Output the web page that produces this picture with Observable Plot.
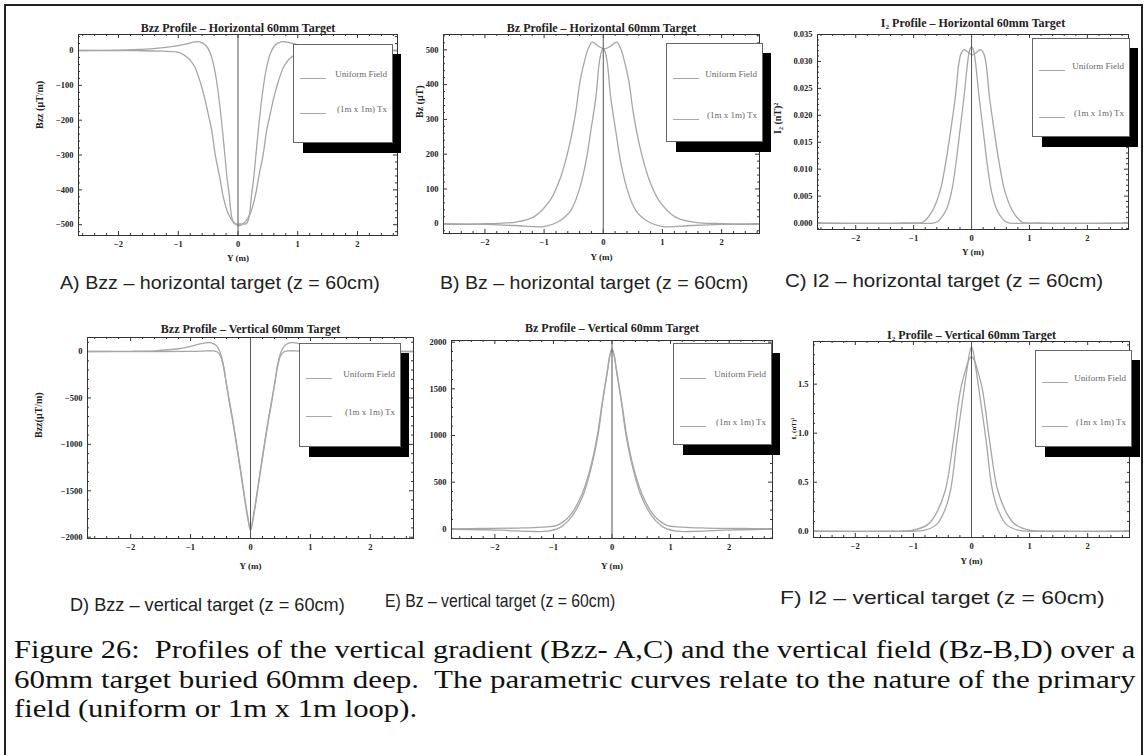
<!DOCTYPE html>
<html><head><meta charset="utf-8">
<script src="https://cdn.jsdelivr.net/npm/d3@7"></script>
<script src="https://cdn.jsdelivr.net/npm/@observablehq/plot@0.6"></script>
<style>
body{margin:0;background:#fff;width:1147px;height:755px;overflow:hidden;position:relative;font-family:"Liberation Serif",serif}
#border{position:absolute;left:4px;top:4px;width:1135px;height:800px;border:2px solid #222}
.pl{position:absolute}
.legend{position:absolute;background:#fff;border:1px solid #666;box-sizing:border-box}
.shadow{position:absolute;background:#000}
.lg-line{position:absolute;height:0;border-top:1px solid #a8a8a8;width:26px}
.lg-text{position:absolute;font:9px "Liberation Serif",serif;color:#666;white-space:nowrap;line-height:1}
.cap{position:absolute;font-family:"Liberation Sans",Arial,sans-serif;font-size:19px;color:#222;white-space:pre;transform-origin:0 50%;line-height:1}
.fig{position:absolute;font-family:"Liberation Serif","Times New Roman",serif;font-size:26px;color:#111;white-space:pre;transform-origin:0 50%;line-height:1}
</style></head><body>
<div id="border"></div>
<script>
// ---------- data ----------
const seriesNames = ["Uniform Field", "(1m x 1m) Tx"];
const xMajor = [-2, -1, 0, 1, 2];
const xMinor = [-2.6,-2.4,-2.2,-1.8,-1.6,-1.4,-1.2,-0.8,-0.6,-0.4,-0.2,0.2,0.4,0.6,0.8,1.2,1.4,1.6,1.8,2.2,2.4,2.6];

// A) Bzz horizontal
const aLoopX = [-2.67,-1.86,-1.46,-1.21,-1.01,-0.86,-0.74,-0.64,-0.54,-0.47,-0.41,-0.36,-0.31,-0.26,-0.22,-0.18,-0.15,-0.10,-0.06,0.04,0.14,0.18,0.23,0.26,0.30,0.34,0.39,0.44,0.49,0.55,0.62,0.72,0.82,0.94,1.09,1.29,1.54,1.94,2.67];
const aLoopY = [0,2,5,9,14,19,24,25,15,-5,-40,-86,-150,-229,-300,-371,-410,-482,-497,-498,-497,-482,-410,-371,-300,-229,-150,-86,-40,-5,15,25,24,19,14,9,5,2,0];
const aUniX = [-2.67,-1.68,-1.28,-0.98,-0.83,-0.73,-0.64,-0.56,-0.50,-0.44,-0.38,-0.31,-0.24,-0.16,-0.08,-0.02,0.02,0.06,0.12,0.20,0.28,0.35,0.42,0.48,0.54,0.60,0.68,0.77,0.87,1.02,1.32,1.72,2.67];
const aUniY = [0,-0.5,-2,-6,-22,-45,-86,-135,-181,-229,-300,-360,-425,-470,-492,-500,-503,-500,-492,-470,-425,-360,-300,-229,-181,-135,-86,-45,-22,-6,-2,-0.5,0];

// B) Bz horizontal
const bLoopX = [-2.68,-1.98,-1.48,-1.18,-0.90,-0.72,-0.58,-0.47,-0.39,-0.30,-0.25,-0.19,-0.13,-0.08,0.02,0.12,0.17,0.23,0.29,0.34,0.43,0.51,0.62,0.76,0.94,1.22,1.52,2.02,2.62];
const bLoopY = [-2,0,5,19,67,134,220,316,412,479,505,522,517,510,503,510,517,522,505,479,412,316,220,134,67,19,5,0,-2];
const bUniX = [-2.7,-2.0,-1.5,-1.0,-0.77,-0.55,-0.41,-0.30,-0.21,-0.125,-0.07,-0.03,0,0.03,0.07,0.125,0.21,0.30,0.41,0.55,0.77,1.0,1.5,2.0,2.63];
const bUniY = [0,-2,-5,-8,5,38,96,172,268,364,460,495,505,495,460,364,268,172,96,38,5,-8,-5,-2,0];

// C) I2 horizontal
const cLoopX = [-2.66,-1.2,-0.84,-0.67,-0.54,-0.45,-0.36,-0.28,-0.22,-0.18,-0.13,-0.08,0.015,0.11,0.16,0.21,0.25,0.31,0.39,0.48,0.57,0.70,0.87,1.2,2.7];
const cLoopY = [0,0,0.0002,0.0024,0.0061,0.0110,0.0172,0.0234,0.0296,0.0315,0.0322,0.0319,0.0312,0.0319,0.0322,0.0315,0.0296,0.0234,0.0172,0.0110,0.0061,0.0024,0.0002,0,0];
const cUniX = [-2.66,-1.0,-0.6,-0.44,-0.34,-0.27,-0.20,-0.13,-0.07,-0.035,0,0.035,0.07,0.13,0.20,0.27,0.34,0.44,0.6,1.0,2.7];
const cUniY = [0,0,0.0002,0.0024,0.0061,0.0110,0.0172,0.0234,0.0296,0.0320,0.0327,0.0320,0.0296,0.0234,0.0172,0.0110,0.0061,0.0024,0.0002,0,0];

// D) Bzz vertical
const dLoopX = [-2.72,-2.0,-1.6,-1.2,-1.0,-0.8,-0.69,-0.62,-0.56,-0.50,-0.45,-0.40,-0.35,-0.30,-0.25,-0.20,-0.15,-0.10,-0.05,0,0.05,0.10,0.15,0.20,0.25,0.30,0.35,0.40,0.45,0.50,0.56,0.62,0.69,0.8,1.0,1.2,1.6,2.0,2.72];
const dLoopY = [0,2,8,30,55,88,95,85,55,-20,-150,-360,-560,-740,-940,-1150,-1360,-1580,-1780,-1930,-1780,-1580,-1360,-1150,-940,-740,-560,-360,-150,-20,55,85,95,88,55,30,8,2,0];
const dUniX = [-2.72,-1.5,-1.0,-0.8,-0.65,-0.56,-0.50,-0.45,-0.40,-0.35,-0.30,-0.25,-0.20,-0.15,-0.10,-0.05,0,0.05,0.10,0.15,0.20,0.25,0.30,0.35,0.40,0.45,0.50,0.56,0.65,0.8,1.0,1.5,2.72];
const dUniY = [0,0,2,5,8,-2,-50,-170,-360,-540,-720,-920,-1130,-1340,-1560,-1760,-1915,-1760,-1560,-1340,-1130,-920,-720,-540,-360,-170,-50,-2,8,5,2,0,0];

// E) Bz vertical
const eLoopX = [-2.74,-2.2,-1.8,-1.4,-1.1,-0.9,-0.7,-0.5,-0.36,-0.24,-0.16,-0.07,-0.03,0,0.03,0.07,0.16,0.24,0.36,0.5,0.7,0.9,1.1,1.4,1.8,2.2,2.74];
const eLoopY = [-5,-10,-18,-28,-25,10,120,350,640,1000,1360,1720,1880,1930,1880,1720,1360,1000,640,350,120,10,-25,-28,-18,-10,-5];
const eUniX = [-2.74,-2.2,-1.6,-1.2,-0.93,-0.72,-0.52,-0.37,-0.25,-0.17,-0.08,-0.035,0,0.035,0.08,0.17,0.25,0.37,0.52,0.72,0.93,1.2,1.6,2.2,2.74];
const eUniY = [0,3,8,18,40,140,360,650,1000,1340,1690,1860,1910,1860,1690,1340,1000,650,360,140,40,18,8,3,0];

// F) I2 vertical
const fUniX = [-2.72,-1.5,-1.0,-0.74,-0.6,-0.45,-0.31,-0.19,-0.1,-0.05,0,0.05,0.1,0.19,0.31,0.45,0.6,0.74,1.0,1.5,2.72];
const fUniY = [0,0,0.01,0.075,0.19,0.42,0.93,1.44,1.65,1.74,1.78,1.74,1.65,1.44,0.93,0.42,0.19,0.075,0.01,0,0];
const fLoopX = [-2.72,-1.2,-0.8,-0.59,-0.47,-0.36,-0.25,-0.13,-0.06,-0.03,0,0.03,0.06,0.13,0.25,0.36,0.47,0.59,0.8,1.2,2.72];
const fLoopY = [0,0,0.01,0.075,0.2,0.42,0.93,1.44,1.72,1.83,1.88,1.83,1.72,1.44,0.93,0.42,0.2,0.075,0.01,0,0];

// tick labels
const aTicks = [0,-100,-200,-300,-400,-500];
const bTicks = [0,100,200,300,400,500];
const cTicks = [0,0.005,0.010,0.015,0.020,0.025,0.030,0.035];
const dTicks = [0,-500,-1000,-1500,-2000];
const eTicks = [0,500,1000,1500,2000];
const fTicks = [0,0.5,1.0,1.5];

const titles = ["Bzz Profile \u2013 Horizontal 60mm Target","Bz Profile \u2013 Horizontal 60mm Target","I\u2082 Profile \u2013 Horizontal 60mm Target",
                "Bzz Profile \u2013 Vertical 60mm Target","Bz Profile \u2013 Vertical 60mm Target","I\u2082 Profile \u2013 Vertical 60mm Target"];
const yLabels = ["Bzz (\u03bcT/m)","Bz (\u03bcT)","I\u2082 (nT)\u00b2","Bzz(\u03bcT/m)",null,"I\u2082 (nT)\u00b2"];
const captions = ["A) Bzz \u2013 horizontal target (z = 60cm)","B) Bz \u2013 horizontal target (z = 60cm)","C) I2 \u2013 horizontal target (z = 60cm)",
                  "D) Bzz \u2013 vertical target (z = 60cm)","E) Bz \u2013 vertical target (z = 60cm)","F) I2 \u2013 vertical target (z = 60cm)"];
const figLines = ["Figure 26:  Profiles of the vertical gradient (Bzz- A,C) and the vertical field (Bz-B,D) over a",
                  "60mm target buried 60mm deep.  The parametric curves relate to the nature of the primary",
                  "field (uniform or 1m x 1m loop)."];

// ---------- drawing ----------
const minus = d => d < 0 ? "\u2212" + (-d) : String(d);
const minorTicks = (lo, hi, step, majors) => d3.range(Math.ceil(lo/step), Math.floor(hi/step)+1).map(k => +(k*step).toFixed(6)).filter(v => !majors.some(m => Math.abs(m - v) < step/10));

function toRows(xs, ys){ return xs.map((x,i)=>({x, y: ys[i]})); }

const panels = [
  {L:78,R:397,T:34,B:235, xd:[-2.67,2.67], yd:[-531,46], yt:aTicks, ystep:20, fmt:minus, curves:[[aUniX,aUniY],[aLoopX,aLoopY]], tdy:-6, xldy:23, yldx:-39, yldy:-6},
  {L:443,R:759,T:34,B:233, xd:[-2.7,2.64], yd:[-28,544], yt:bTicks, ystep:20, fmt:minus, curves:[[bUniX,bUniY],[bLoopX,bLoopY]], tdy:-6, xldy:24, yldx:-24, yldy:-16},
  {L:817,R:1128,T:34,B:229, xd:[-2.66,2.71], yd:[-0.0012,0.035], yt:cTicks, ystep:0.001, fmt:d3.format(".3f"), curves:[[cUniX,cUniY],[cLoopX,cLoopY]], tdy:-11, xldy:23, yldx:-40, yldy:2},
  {L:87,R:413,T:337,B:538, xd:[-2.72,2.72], yd:[-2014,151], yt:dTicks, ystep:100, fmt:minus, curves:[[dUniX,dUniY],[dLoopX,dLoopY]], tdy:-8, xldy:28, yldx:-49, yldy:0},
  {L:451,R:772,T:340,B:538, xd:[-2.74,2.74], yd:[-104,2018], yt:eTicks, ystep:100, fmt:minus, curves:[[eUniX,eUniY],[eLoopX,eLoopY]], tdy:-12, xldy:28, yldx:-30, yldy:0},
  {L:813,R:1129,T:341,B:537, xd:[-2.72,2.72], yd:[-0.064,1.935], yt:fTicks, ystep:0.1, fmt:d3.format(".1f"), curves:[[fUniX,fUniY],[fLoopX,fLoopY]], tdy:-6, xldy:24, yldx:-20, yldy:0}
];

const ML=62, MR=12, MT=34, MB=40;
panels.forEach((p, i) => {
  const fw = p.R - p.L, fh = p.B - p.T;
  const yMinor = minorTicks(p.yd[0], p.yd[1], p.ystep, p.yt);
  const tickColor = "#333";
  const marks = [
    Plot.ruleX(xMinor, {x: d => d, insetBottom: fh - 2, stroke: tickColor}),
    Plot.ruleX(xMinor, {x: d => d, insetTop: fh - 2, stroke: tickColor}),
    Plot.ruleX(xMajor, {x: d => d, insetBottom: fh - 4, stroke: tickColor}),
    Plot.ruleX(xMajor, {x: d => d, insetTop: fh - 4, stroke: tickColor}),
    Plot.ruleY(yMinor, {y: d => d, insetRight: fw - 2, stroke: tickColor}),
    Plot.ruleY(yMinor, {y: d => d, insetLeft: fw - 2, stroke: tickColor}),
    Plot.ruleY(p.yt, {y: d => d, insetRight: fw - 4, stroke: tickColor}),
    Plot.ruleY(p.yt, {y: d => d, insetLeft: fw - 4, stroke: tickColor}),
    ...p.curves.map(([xs, ys], k) => Plot.line(toRows(xs, ys), {x: "x", y: "y", stroke: "#a6a6a6", strokeWidth: 1.3, curve: "catmull-rom"})),
    Plot.ruleX([0], {stroke: "#555", strokeWidth: 1}),
    Plot.frame({stroke: "#333"}),
    Plot.text([titles[i]], {frameAnchor: "top", dy: p.tdy, fontSize: 12, fontWeight: "bold", lineAnchor: "middle", fill: "#222"}),
    Plot.text(["Y (m)"], {frameAnchor: "bottom", dy: p.xldy, fontSize: 9, fontWeight: "bold", lineAnchor: "middle", fill: "#222"})
  ];
  if (yLabels[i]) marks.push(Plot.text([yLabels[i]], {frameAnchor: "left", rotate: -90, dx: p.yldx, dy: p.yldy, fontSize: i === 5 ? 7 : 10, fontWeight: "bold", lineAnchor: "middle", fill: "#222"}));
  const svg = Plot.plot({
    width: fw + ML + MR, height: fh + MT + MB,
    marginLeft: ML, marginRight: MR, marginTop: MT, marginBottom: MB,
    x: {domain: p.xd, ticks: xMajor, tickFormat: minus, tickSize: 0, tickPadding: 5, label: null},
    y: {domain: p.yd, ticks: p.yt, tickFormat: p.fmt, tickSize: 0, tickPadding: 5, label: null},
    style: {background: "transparent", fontFamily: "'Liberation Serif', serif", fontSize: "8.5px", fontWeight: "bold", color: "#222", overflow: "visible", maxWidth: "none"},
    marks
  });
  const wrap = document.createElement("div");
  wrap.className = "pl";
  wrap.style.left = (p.L - ML) + "px";
  wrap.style.top = (p.T - MT) + "px";
  wrap.appendChild(svg);
  document.body.appendChild(wrap);
});

// legends (HTML, placed over the plots)
const legends = [
  {box:[293,44,100,99], rows:[33,68]},
  {box:[666,43,97,99], rows:[34,75]},
  {box:[1032,38,98,99], rows:[31,78]},
  {box:[299,343,102,104], rows:[34,72]},
  {box:[673,343,99,102], rows:[34,82]},
  {box:[1035,350,97,97], rows:[31,75]}
];
legends.forEach(lg => {
  const [l, t, w, h] = lg.box;
  const sh = document.createElement("div");
  sh.className = "shadow";
  Object.assign(sh.style, {left: (l + 10) + "px", top: (t + 10) + "px", width: (w - 2) + "px", height: h + "px"});
  document.body.appendChild(sh);
  const bx = document.createElement("div");
  bx.className = "legend";
  Object.assign(bx.style, {left: l + "px", top: t + "px", width: w + "px", height: h + "px"});
  lg.rows.forEach((ry, k) => {
    const ln = document.createElement("div");
    ln.className = "lg-line";
    Object.assign(ln.style, {left: "6px", top: ry + "px"});
    bx.appendChild(ln);
    const tx = document.createElement("div");
    tx.className = "lg-text";
    tx.textContent = seriesNames[k];
    Object.assign(tx.style, {right: "5px", top: (ry - 8) + "px"});
    bx.appendChild(tx);
  });
  document.body.appendChild(bx);
});

// panel captions
const capPos = [[60,282,320],[440,282,308],[785,280,318],[70,604,275],[385,600,230],[780,597,325]];
function fit(el, x, yc, w){
  document.body.appendChild(el);
  const nat = el.offsetWidth, hh = el.offsetHeight;
  el.style.left = x + "px";
  el.style.top = (yc - hh/2) + "px";
  const s = w / nat;
  el.style.transform = "scaleX(" + s + ")";
  return s;
}
captions.forEach((c, i) => {
  const el = document.createElement("div");
  el.className = "cap";
  el.textContent = c;
  fit(el, capPos[i][0], capPos[i][1], capPos[i][2]);
});

// figure caption
const figY = [650, 680, 709];
let sAvg = 1;
figLines.forEach((t, i) => {
  const el = document.createElement("div");
  el.className = "fig";
  el.textContent = t;
  if (i < 2) {
    const s = fit(el, 14, figY[i], 1121);
    sAvg = i === 0 ? s : (sAvg + s) / 2;
  } else {
    document.body.appendChild(el);
    el.style.left = "14px";
    el.style.top = (figY[i] - el.offsetHeight/2) + "px";
    el.style.transform = "scaleX(" + sAvg + ")";
  }
});
</script></body></html>
